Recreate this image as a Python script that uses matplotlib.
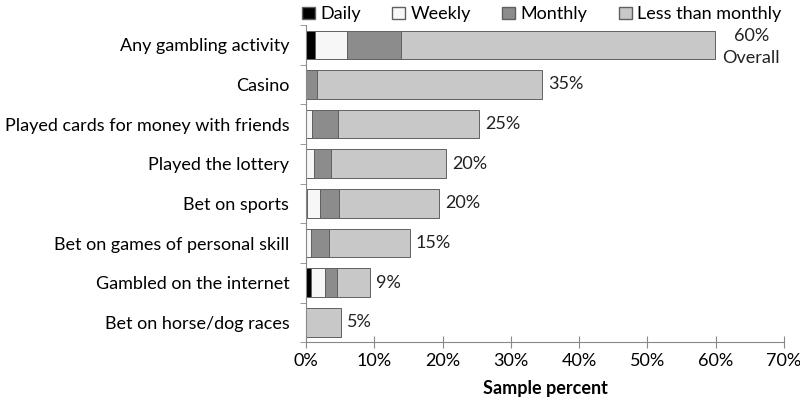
import numpy as np
import matplotlib.pyplot as plt
from matplotlib.patches import Patch

plt.rcParams['font.family'] = ['Lato', 'DejaVu Sans']

categories = ['Any gambling activity', 'Casino', 'Played cards for money with friends',
              'Played the lottery', 'Bet on sports', 'Bet on games of personal skill',
              'Gambled on the internet', 'Bet on horse/dog races']
daily = [1.3, 0.0, 0.0, 0.0, 0.2, 0.0, 0.8, 0.0]
weekly = [4.7, 0.0, 0.9, 1.2, 1.9, 0.7, 2.0, 0.0]
monthly = [7.9, 1.6, 3.8, 2.4, 2.8, 2.6, 1.8, 0.0]
less_monthly = [46.0, 33.0, 20.6, 16.9, 14.6, 11.9, 4.8, 5.1]
labels = ['60%\nOverall', '35%', '25%', '20%', '20%', '15%', '9%', '5%']

series = [('Daily', daily, '#000000'),
          ('Weekly', weekly, '#f7f7f7'),
          ('Monthly', monthly, '#8c8c8c'),
          ('Less than monthly', less_monthly, '#c8c8c8')]

fig = plt.figure(figsize=(8, 4.03), dpi=100)
ax = fig.add_axes([0.3825, 0.151, 0.5975, 0.787])

y = np.arange(len(categories))
left = np.zeros(len(categories))
for name, vals, col in series:
    ax.barh(y, vals, left=left, height=0.72, color=col, edgecolor='#606060', linewidth=0.7)
    left += np.array(vals)

for i, (tot, lab) in enumerate(zip(left, labels)):
    if i == 0:
        ax.text(tot + 5.3, i + 0.05, lab, va='center', ha='center', fontsize=13,
                color='#222222', linespacing=1.5, multialignment='center')
    else:
        ax.text(tot + 0.9, i, lab, va='center', ha='left', fontsize=13, color='#222222')

ax.set_ylim(len(categories) - 0.5, -0.5)
ax.set_xlim(0, 70)
ax.set_xticks(np.arange(0, 71, 10))
ax.set_xticklabels([f'{v}%' for v in range(0, 71, 10)], fontsize=13)
ax.set_yticks(y)
ax.set_yticklabels(categories, fontsize=13)
ax.set_yticks(np.arange(-0.5, len(categories), 1), minor=True)
ax.tick_params(axis='y', which='major', length=0, pad=12)
ax.tick_params(axis='y', which='minor', length=4, color='#888888')
ax.tick_params(axis='x', length=8, direction='inout', color='#888888', pad=4)
ax.set_xlabel('Sample percent', fontsize=13, fontweight='bold', labelpad=8)
for s in ['top', 'right']:
    ax.spines[s].set_visible(False)
for s in ['left', 'bottom']:
    ax.spines[s].set_color('#888888')

handles = [Patch(facecolor=c, edgecolor='#606060', label=n) for n, _, c in series]
fig.legend(handles=handles, loc='upper center', bbox_to_anchor=(0.677, 1.025), ncol=4,
           frameon=False, fontsize=13, handlelength=0.7, handleheight=0.7,
           columnspacing=1.75, handletextpad=0.3)

fig.savefig('out.png', dpi=100)
